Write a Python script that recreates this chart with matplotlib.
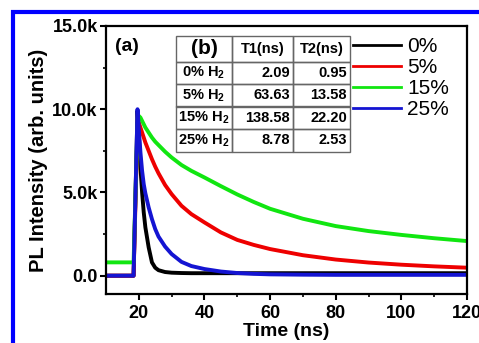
import matplotlib
matplotlib.use('Agg')
import matplotlib.pyplot as plt
from matplotlib.lines import Line2D
from matplotlib.patches import Rectangle

plt.rcParams['font.family'] = ['Liberation Sans', 'DejaVu Sans']
plt.rcParams['mathtext.fontset'] = 'custom'
plt.rcParams['mathtext.rm'] = 'Liberation Sans'
plt.rcParams['mathtext.bf'] = 'Liberation Sans:bold'

# values
time_ns = [10, 15, 18.4, 19.0, 19.6, 20.0, 20.5, 21, 21.5, 22, 23, 24, 25, 26, 28, 30,
           33, 36, 40, 45, 50, 55, 60, 70, 80, 90, 100, 110, 120]
pl_0 = [0, 0, 0, 5000, 9900, 8500, 6500, 5000, 3800, 2900, 1700, 800, 480, 330, 220, 180,
        160, 150, 150, 150, 150, 150, 150, 150, 150, 150, 150, 150, 150]
pl_5 = [0, 0, 0, 4500, 8800, 9200, 8900, 8600, 8300, 8000, 7500, 7000, 6550, 6150, 5450, 4900,
        4200, 3700, 3200, 2600, 2150, 1850, 1600, 1230, 970, 790, 660, 560, 480]
pl_15 = [800, 800, 800, 5000, 9000, 9600, 9500, 9300, 9100, 8900, 8600, 8300, 8050, 7850, 7450, 7100,
         6650, 6300, 5900, 5380, 4880, 4430, 4020, 3420, 2980, 2680, 2450, 2250, 2080]
pl_25 = [0, 0, 0, 5000, 10000, 8800, 7400, 6300, 5500, 4950, 4100, 3400, 2800, 2350, 1750, 1300,
         830, 580, 400, 250, 160, 110, 80, 60, 50, 50, 50, 50, 50]

series = [pl_0, pl_5, pl_15, pl_25]
labels = ['0%', '5%', '15%', '25%']
colors = ['#000000', '#ee0000', '#11e611', '#1414d2']

row_names = [r'0% H$_\mathbf{2}$', r'5% H$_\mathbf{2}$', r'15% H$_\mathbf{2}$', r'25% H$_\mathbf{2}$']
t1_ns = ['2.09', '63.63', '138.58', '8.78']
t2_ns = ['0.95', '13.58', '22.20', '2.53']

W, H = 479, 343
fig = plt.figure(figsize=(W / 100, H / 100), dpi=100)
ax_l, ax_r, ax_t, ax_b = 106, 467, 26, 294
ax = fig.add_axes([ax_l / W, 1 - ax_b / H, (ax_r - ax_l) / W, (ax_b - ax_t) / H])

for ys, lab, c in zip(series, labels, colors):
    ax.plot(time_ns, ys, color=c, lw=2.8, label=lab, solid_joinstyle='round')

ax.set_xlim(10, 120)
ax.set_ylim(-1100, 15000)
ax.set_xticks([20, 40, 60, 80, 100, 120])
ax.set_xticks([30, 50, 70, 90, 110], minor=True)
ax.set_yticks([0, 5000, 10000, 15000], ['0.0', '5.0k', '10.0k', '15.0k'])
ax.set_yticks([2500, 7500, 12500], minor=True)
ax.tick_params(which='major', length=4, width=1.5, labelsize=13)
ax.tick_params(axis='x', which='major', pad=4)
ax.tick_params(axis='y', which='major', pad=2)
ax.tick_params(which='minor', length=2.5, width=1.2)
for lab in ax.get_xticklabels() + ax.get_yticklabels():
    lab.set_fontweight('bold')
for s in ax.spines.values():
    s.set_linewidth(1.6)

ax.set_xlabel('Time (ns)', fontsize=14, fontweight='bold', labelpad=1)
ax.set_ylabel('PL Intensity (arb. units)', fontsize=14.5, fontweight='bold', labelpad=3)

ax.text(0.025, 0.955, '(a)', transform=ax.transAxes, fontsize=14, fontweight='bold',
        va='top', ha='left')


# table (b) drawn by hand
def to_ax(px, py):
    return (px - ax_l) / (ax_r - ax_l), (ax_b - py) / (ax_b - ax_t)


col_px = [176, 232, 293, 350]
row_px = [36, 62, 84, 106.5, 129, 152]
cells = [['(b)', 'T1(ns)', 'T2(ns)']] + [[n, a, b] for n, a, b in zip(row_names, t1_ns, t2_ns)]
for r in range(5):
    for c in range(3):
        x0, y1 = to_ax(col_px[c], row_px[r])
        x1, y0 = to_ax(col_px[c + 1], row_px[r + 1])
        ax.add_patch(Rectangle((x0, y0), x1 - x0, y1 - y0, transform=ax.transAxes,
                               fill=False, ec='#666666', lw=1.0, zorder=5))
        txt = cells[r][c]
        ym = (y0 + y1) / 2
        if r == 0 and c == 0:
            ax.text((x0 + x1) / 2, ym, txt, transform=ax.transAxes, fontsize=15,
                    fontweight='bold', ha='center', va='center', zorder=6)
        elif r == 0 or c == 0:
            ax.text((x0 + x1) / 2, ym, txt, transform=ax.transAxes, fontsize=10.5,
                    fontweight='bold', ha='center', va='center', zorder=6)
        else:
            ax.text(x1 - 3 / (ax_r - ax_l), ym, txt, transform=ax.transAxes, fontsize=10.5,
                    fontweight='bold', ha='right', va='center', zorder=6)

leg = ax.legend(frameon=False, loc='upper left', bbox_to_anchor=to_ax(353, 37),
                fontsize=15, handlelength=2.3, handletextpad=0.3, labelspacing=0.1,
                borderpad=0, borderaxespad=0)
for ln in leg.get_lines():
    ln.set_linewidth(2)

# blue frame of the cropped figure
fig.add_artist(Line2D([13 / W, 13 / W], [0, 1 - 9.5 / H], transform=fig.transFigure,
                      color='#0000ff', lw=3, solid_capstyle='butt'))
fig.add_artist(Line2D([11 / W, 1], [1 - 11.5 / H, 1 - 11.5 / H], transform=fig.transFigure,
                      color='#0000ff', lw=3, solid_capstyle='butt'))

fig.savefig('out.png', dpi=100)
